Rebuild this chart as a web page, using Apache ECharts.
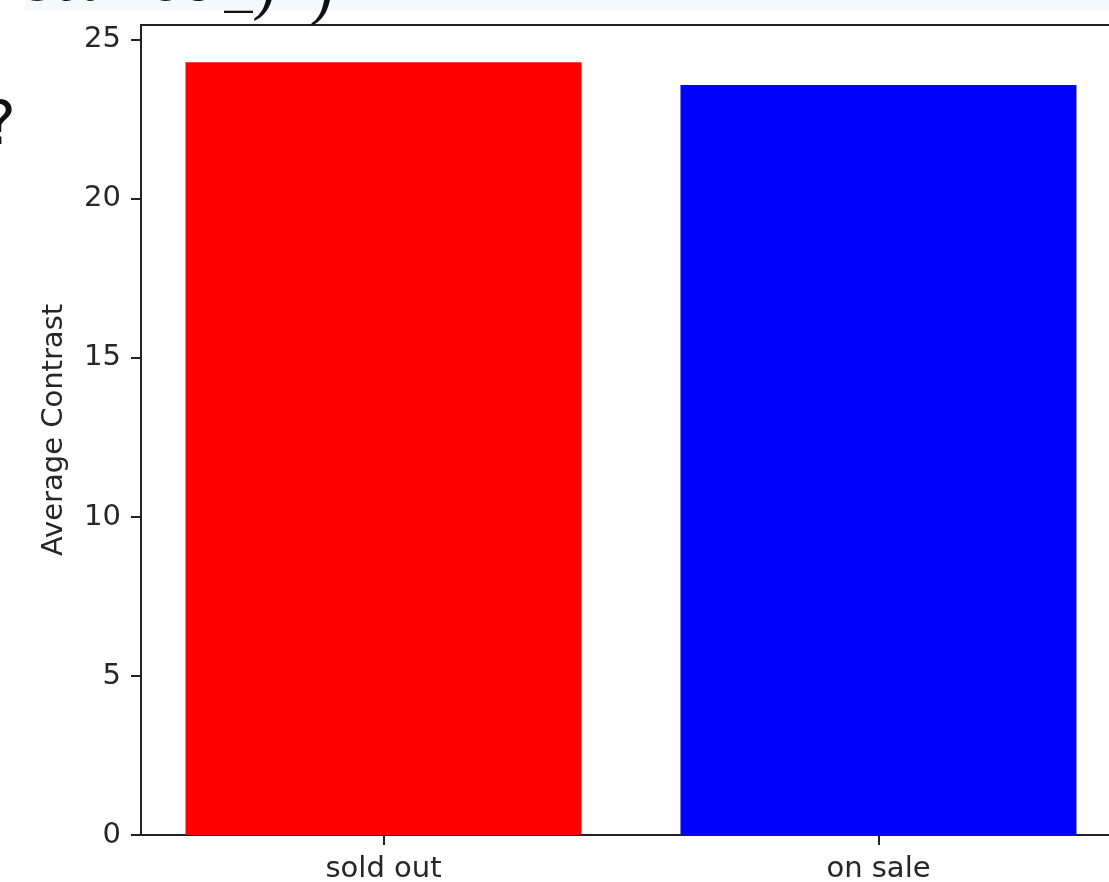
<!DOCTYPE html>
<html>
<head>
<meta charset="utf-8">
<script src="https://cdn.jsdelivr.net/npm/echarts@6/dist/echarts.min.js"></script>
<style>
html,body{margin:0;padding:0;background:#fff;}
#c{width:1109px;height:882px;}
</style>
</head>
<body>
<div id="c"></div>
<script>
var categories = ['sold out', 'on sale'];
var values = [24.3, 23.58];
var barColors = ['#ff0000', '#0000ff'];
var yTicks = [0, 5, 10, 15, 20, 25];
var yLabel = 'Average Contrast';

var chart = echarts.init(document.getElementById('c'), null, {renderer: 'canvas'});
var font = 'DejaVu Sans';
var textColor = '#262626';
var axisColor = '#222222';

var barData = categories.map(function (c, i) {
  return { value: [i, values[i]], itemStyle: { color: barColors[i] } };
});

chart.setOption({
  animation: false,
  backgroundColor: '#ffffff',
  grid: {
    left: 141, top: 25, width: 980, height: 810,
    outerBoundsMode: 'none',
    containLabel: false,
    show: true, borderColor: axisColor, borderWidth: 2, backgroundColor: 'transparent'
  },
  xAxis: {
    type: 'value',
    min: -0.49, max: 1.49,
    axisLine: { show: true, onZero: false, lineStyle: { color: axisColor, width: 2 } },
    axisTick: { show: true, length: 10, lineStyle: { color: axisColor, width: 2 }, customValues: [0, 1] },
    axisLabel: {
      customValues: [0, 1],
      formatter: function (v) { return categories[Math.round(v)]; },
      color: textColor, fontFamily: font, fontSize: 29, margin: 20
    },
    splitLine: { show: false }
  },
  yAxis: {
    type: 'value',
    min: 0, max: 25.47,
    name: yLabel,
    nameLocation: 'middle',
    nameGap: 72,
    nameTextStyle: { color: textColor, fontFamily: font, fontSize: 29 },
    axisLine: { show: true, onZero: false, lineStyle: { color: axisColor, width: 2 } },
    axisTick: { show: true, length: 10, lineStyle: { color: axisColor, width: 2 }, customValues: yTicks },
    axisLabel: {
      customValues: yTicks,
      color: textColor, fontFamily: font, fontSize: 29, margin: 20
    },
    splitLine: { show: false }
  },
  graphic: [
    { type: 'rect', left: 25, top: 0, shape: { width: 1084, height: 11 }, style: { fill: '#f6f8fc' }, z: -1 },
    { type: 'text', x: 218, y: 14, style: { text: 'distance', fontSize: 58, fontFamily: 'DejaVu Serif', fontStyle: 'italic', fill: '#111', textAlign: 'right', textVerticalAlign: 'bottom' } },
    { type: 'text', x: 253, y: 13, style: { text: '_', fontSize: 58, fontFamily: 'DejaVu Serif', fontStyle: 'italic', fill: '#111', textAlign: 'right', textVerticalAlign: 'bottom' } },
    { type: 'text', x: 255, y: 26, style: { text: ')', fontSize: 58, fontFamily: 'DejaVu Serif', fontStyle: 'italic', fill: '#111', textVerticalAlign: 'bottom' } },
    { type: 'text', x: 312, y: 31, style: { text: ')', fontSize: 58, fontFamily: 'DejaVu Serif', fontStyle: 'italic', fill: '#111', textVerticalAlign: 'bottom' } },
    { type: 'text', x: -16, y: 98, style: { text: '?', fontSize: 60, fontFamily: 'DejaVu Sans', fill: '#111', textVerticalAlign: 'top' } }
  ],
  series: [{
    type: 'bar',
    data: barData,
    barWidth: 396
  }]
});
</script>
</body>
</html>
